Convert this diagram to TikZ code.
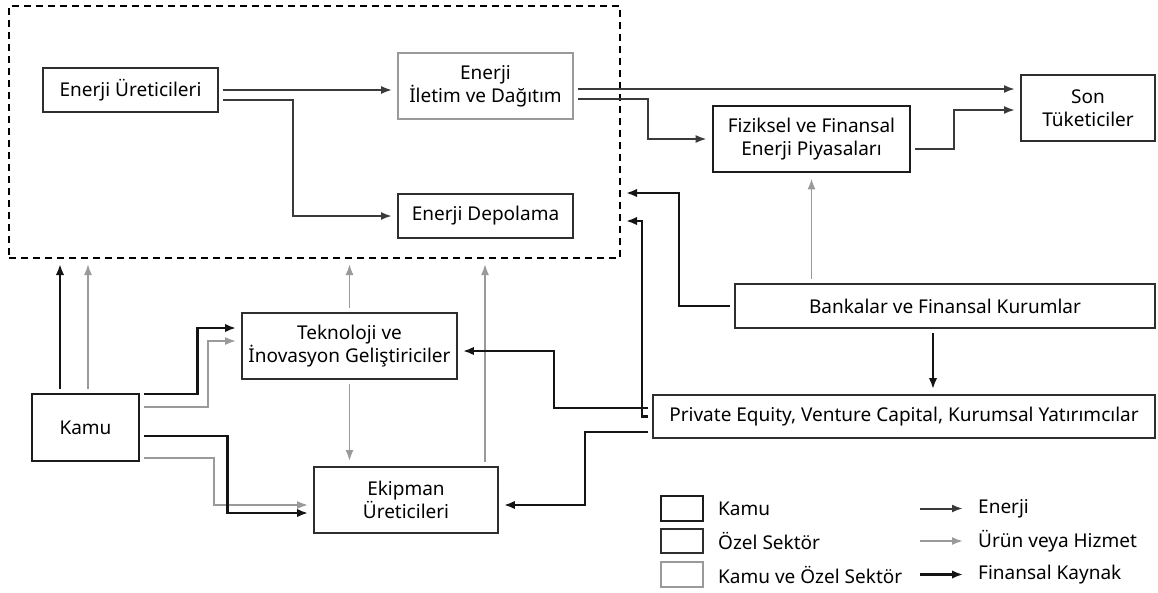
\documentclass[tikz,border=0pt]{standalone}
\usepackage{fontspec}
\setmainfont{Noto Sans}
\usepackage{xcolor}
\usepackage{tikz}
\usetikzlibrary{arrows.meta}
\definecolor{fgkamu}{HTML}{1C1C1C}
\definecolor{fgozel}{HTML}{2E2E2E}
\definecolor{fgortak}{HTML}{9A9A9A}
\definecolor{fgenerji}{HTML}{3A3A3A}
\definecolor{fgurun}{HTML}{9A9A9A}
\definecolor{fgfinans}{HTML}{141414}

\begin{document}
\begin{tikzpicture}[
        x=1pt, y=-1pt,
        box/.style={
            rectangle,
            draw=fgozel,
            line width=1.9pt,
            text=black,
            align=center,
            font=\fontsize{19}{23}\selectfont,
            inner sep=0pt
        },
        kamubox/.style={
            box,
            draw=fgkamu,
            line width=2.7pt
        },
        ortakbox/.style={
            box,
            draw=fgortak,
            line width=1.7pt
        },
        legendtext/.style={
            anchor=west,
            font=\fontsize{19}{23}\selectfont,
            inner sep=0pt
        },
        enerji/.style={
            draw=fgenerji,
            line width=2pt,
            -{Latex[length=11pt,width=8pt]},
            shorten <=4pt, shorten >=5pt
        },
        urun/.style={
            draw=fgurun,
            line width=1.8pt,
            -{Latex[length=11pt,width=8pt]},
            shorten <=4pt, shorten >=5pt
        },
        finans/.style={
            draw=fgfinans,
            line width=2.5pt,
            -{Latex[length=11pt,width=8.5pt]},
            shorten <=4pt, shorten >=5pt
        }
    ]
        \useasboundingbox (0,0) rectangle (1158,592);

        % Energy zone
        \node[draw=black, line width=2pt, dash pattern=on 7pt off 5pt,
              minimum width=611, minimum height=252, inner sep=0pt]
              (zone) at (314.5,132) {};
        \node[box, minimum width=175, minimum height=44] (prod) at (130.5,90) {Enerji Üreticileri};
        \node[ortakbox, minimum width=175, minimum height=66] (trans) at (485.5,86) {Enerji\\İletim ve Dağıtım};
        \node[box, minimum width=175, minimum height=44] (store) at (485.5,216) {Enerji Depolama};

        % Markets and consumers
        \node[kamubox, minimum width=197, minimum height=66] (market) at (811.5,139) {Fiziksel ve Finansal\\Enerji Piyasaları};
        \node[box, minimum width=134, minimum height=66] (cons) at (1088,108) {Son\\Tüketiciler};

        % Finance
        \node[box, minimum width=420, minimum height=44] (bank) at (945,306) {Bankalar ve Finansal Kurumlar};
        \node[box, minimum width=502, minimum height=43] (pe) at (904,416.5) {Private Equity, Venture Capital, Kurumsal Yatırımcılar};

        % Public sector and suppliers
        \node[kamubox, minimum width=107, minimum height=67] (kamu) at (85.5,427.5) {Kamu};
        \node[box, minimum width=215, minimum height=66] (tech) at (349.5,346) {Teknoloji ve\\İnovasyon Geliştiriciler};
        \node[box, minimum width=184, minimum height=66] (equip) at (406,500) {Ekipman\\Üreticileri};

        % Energy flows
        \draw[enerji] (prod.east) -- (prod.east -| trans.west);
        \draw[enerji] ([yshift=-10]prod.east) -- ++(74,0) |- (store.west);
        \draw[enerji] ([yshift=-3]trans.east) -- ([yshift=-3]trans.east -| cons.west);
        \draw[enerji] ([yshift=-13]trans.east) -- ++(74,0) |- (market.west);
        \draw[enerji] ([yshift=-10]market.east) -- ++(43,0) |- ([yshift=-2]cons.west);

        % Products and services
        \draw[urun] (bank.north -| market.south) -- (market.south);
        \draw[urun] ([xshift=2.5]kamu.north) -- ([xshift=2.5]kamu.north |- zone.south);
        \draw[urun] ([yshift=20.5]kamu.east) -- ++(68,0) |- ([yshift=5]tech.west);
        \draw[urun] ([yshift=-30.5]kamu.east) -- ++(74,0) |- ([yshift=-5]equip.west);
        \draw[urun] (tech.north) -- (tech.north |- zone.south);
        \draw[urun] (tech.south) -- (tech.south |- equip.north);
        \draw[urun] ([xshift=79]equip.north) -- ([xshift=79]equip.north |- zone.south);

        % Financial resources
        \draw[finans] ([xshift=-25.5]kamu.north) -- ([xshift=-25.5]kamu.north |- zone.south);
        \draw[finans] ([yshift=33.5]kamu.east) -- ++(57,0) |- ([yshift=18]tech.west);
        \draw[finans] ([yshift=-8.5]kamu.east) -- ++(87,0) |- ([yshift=-13]equip.west);
        \draw[finans] ([xshift=-12]bank.south) -- ([xshift=-12]bank.south |- pe.north);
        \draw[finans] (bank.west) -- ++(-55,0) |- ([yshift=-61]zone.east);
        \draw[finans] (pe.west) -- ++(-10,0) |- ([yshift=-89]zone.east);
        \draw[finans] ([yshift=8.5]pe.west) -- ++(-98,0) |- ([yshift=-5]tech.east);
        \draw[finans] ([yshift=-15.5]pe.west) -- ++(-67,0) |- ([yshift=-5]equip.east);

        % Legend
        \node[kamubox, minimum width=42, minimum height=25] (lgkamu) at (682,508.5) {};
        \node[box, minimum width=42, minimum height=24] (lgozel) at (682,541) {};
        \node[ortakbox, minimum width=42, minimum height=25] (lgortak) at (682,574.5) {};
        \node[legendtext] (lgkamutext) at (718,508.5) {Kamu};
        \node[legendtext] (lgozeltext) at (718,541) {Özel Sektör};
        \node[legendtext] (lgortaktext) at (718,574.5) {Kamu ve Özel Sektör};
        \node[legendtext] (lgenerji) at (978,508.5) {Enerji};
        \node[legendtext] (lgurun) at (978,541) {Ürün veya Hizmet};
        \node[legendtext] (lgfinans) at (978,574.5) {Finansal Kaynak};
        \coordinate (lgenerjistart) at (916,508.5);
        \coordinate (lgurunstart) at (916,541);
        \coordinate (lgfinansstart) at (916,574.5);
        \draw[enerji, shorten >=15pt] (lgenerjistart) -- (lgenerji.west);
        \draw[urun, shorten >=15pt] (lgurunstart) -- (lgurun.west);
        \draw[finans, shorten >=15pt] (lgfinansstart) -- (lgfinans.west);
    \end{tikzpicture}
\end{document}
